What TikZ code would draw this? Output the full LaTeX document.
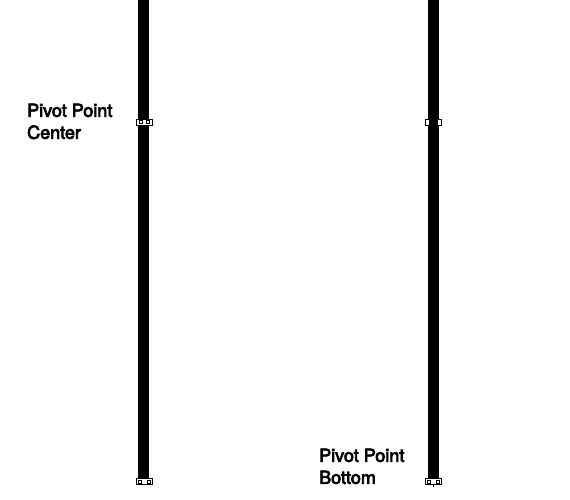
\documentclass[tikz,border=0pt]{standalone}
\usepackage{fontspec}
\setmainfont{TeX Gyre Heros}[FakeBold=4]
\begin{document}
\begin{tikzpicture}[x=1pt,y=-1pt,
  bar/.style={fill=black,draw=none},
  handle/.style={draw=black,fill=white,line width=0.8pt},
  lbl/.style={anchor=north west,inner sep=0pt,align=left,font=\fontsize{18.3}{22}\selectfont\bfseries}]
\useasboundingbox (0,0) rectangle (570,500);
% bars
\fill[bar] (138,0) rectangle (149,479);
\fill[bar] (428,0) rectangle (439,479);
% center handles
\node[handle,minimum width=16pt,minimum height=6pt,inner sep=0pt] (hc1) at (144.5,122) {};
\node[handle,minimum width=3pt,minimum height=3pt,inner sep=0pt] at (141,122) {};
\node[handle,minimum width=3pt,minimum height=3pt,inner sep=0pt] at (148,122) {};
\node[handle,minimum width=4pt,minimum height=6pt,inner sep=0pt] (hc2a) at (427,122) {};
\node[handle,minimum width=4pt,minimum height=6pt,inner sep=0pt] (hc2b) at (439.5,122) {};
% bottom handles
\node[handle,minimum width=16pt,minimum height=6pt,inner sep=0pt] (hb1) at (144.5,481.5) {};
\node[handle,minimum width=3pt,minimum height=3pt,inner sep=0pt] at (140,481.5) {};
\node[handle,minimum width=3pt,minimum height=3pt,inner sep=0pt] at (149,481.5) {};
\node[handle,minimum width=16pt,minimum height=6pt,inner sep=0pt] (hb2) at (433.5,481.5) {};
\node[handle,minimum width=3pt,minimum height=3pt,inner sep=0pt] at (429,481.5) {};
\node[handle,minimum width=3pt,minimum height=3pt,inner sep=0pt] at (438,481.5) {};
\coordinate (tick) at (433.5,487);
\draw[line width=0.8pt] (hb2.south) -- (tick);
% labels
\node[lbl,font=\fontsize{18}{22}\selectfont] (l1) at (27,103.5) {Pivot Point\\Center};
\node[lbl,font=\fontsize{18}{22}\selectfont] (l2) at (319,448.5) {Pivot Point\\Bottom};
\end{tikzpicture}
\end{document}
